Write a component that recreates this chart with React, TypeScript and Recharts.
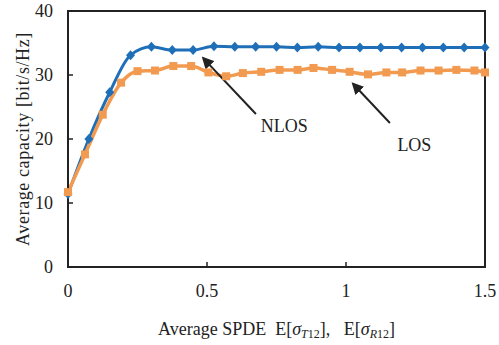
import { LineChart, Line, XAxis, YAxis, ReferenceArea, ReferenceLine, ReferenceDot } from "recharts";

const nlosX = [0, 0.075, 0.15, 0.225, 0.3, 0.375, 0.45, 0.525, 0.6, 0.675, 0.75, 0.825, 0.9, 0.975, 1.05, 1.125, 1.2, 1.275, 1.35, 1.425, 1.5];
const nlosY = [11.4, 20.0, 27.3, 33.1, 34.4, 33.9, 33.9, 34.5, 34.4, 34.4, 34.4, 34.3, 34.4, 34.3, 34.3, 34.3, 34.3, 34.3, 34.3, 34.3, 34.3];

const losX = [0, 0.061, 0.125, 0.191, 0.25, 0.313, 0.379, 0.443, 0.505, 0.569, 0.629, 0.695, 0.761, 0.826, 0.883, 0.95, 1.013, 1.079, 1.145, 1.202, 1.268, 1.333, 1.397, 1.462, 1.5];
const losY = [11.7, 17.6, 23.8, 28.8, 30.6, 30.7, 31.4, 31.4, 30.4, 29.8, 30.3, 30.5, 30.8, 30.8, 31.1, 30.8, 30.5, 30.1, 30.4, 30.4, 30.7, 30.7, 30.8, 30.7, 30.4];

const xTicks = [0, 0.5, 1, 1.5];
const yTicks = [0, 10, 20, 30, 40];

const nlosData = nlosX.map((x, i) => ({ x, v: nlosY[i] }));
const losData = losX.map((x, i) => ({ x, v: losY[i] }));

const FONT = "'Liberation Serif', 'Times New Roman', serif";
const BLUE = "#1f6fb8";
const ORANGE = "#f29a50";
const INK = "#222";

function DiamondDot(p: any) {
  if (p.cx == null || p.cy == null) return <g key={`d-${p.index}`} />;
  const { cx, cy } = p;
  return (
    <polygon
      key={`d-${p.index}`}
      points={`${cx},${cy - 5} ${cx + 4.5},${cy} ${cx},${cy + 5} ${cx - 4.5},${cy}`}
      fill={BLUE}
    />
  );
}

function SquareDot(p: any) {
  if (p.cx == null || p.cy == null) return <g key={`s-${p.index}`} />;
  return <rect key={`s-${p.index}`} x={p.cx - 4} y={p.cy - 4} width={8} height={8} fill={ORANGE} />;
}

function Arrow(p: any) {
  return <line x1={p.x1} y1={p.y1} x2={p.x2} y2={p.y2} stroke={INK} strokeWidth={2} markerEnd="url(#arrowHead)" />;
}

function XTitle(p: any) {
  const vb = p.viewBox;
  const cx = vb.x + vb.width / 2;
  return (
    <text x={cx} y={335} textAnchor="middle" fontFamily={FONT} fontSize={18} fill={INK} style={{ whiteSpace: "pre" }}>
      {"Average SPDE  E["}
      <tspan fontStyle="italic">σ</tspan>
      <tspan fontSize={12} dy={3}>
        <tspan fontStyle="italic">T</tspan>12
      </tspan>
      <tspan dy={-3}>{"],   E["}</tspan>
      <tspan fontStyle="italic">σ</tspan>
      <tspan fontSize={12} dy={3}>
        <tspan fontStyle="italic">R</tspan>12
      </tspan>
      <tspan dy={-3}>]</tspan>
    </text>
  );
}

function YTitle(p: any) {
  const vb = p.viewBox;
  const cy = vb.y + vb.height / 2;
  return (
    <text
      x={23}
      y={cy}
      transform={`rotate(-90 23 ${cy})`}
      textAnchor="middle"
      dominantBaseline="central"
      fontFamily={FONT}
      fontSize={18}
      letterSpacing={0.6}
      fill={INK}
    >
      Average capacity [bit/s/Hz]
    </text>
  );
}

export default function App() {
  const tick = { fill: INK, fontSize: 18, fontFamily: FONT };
  return (
    <div style={{ position: "absolute", left: 0, top: 0, background: "#fff" }}>
      <LineChart width={499} height={345} margin={{ top: 11, right: 14, left: 0, bottom: 0 }}>
        <defs>
          <marker id="arrowHead" viewBox="0 0 10 10" refX="8" refY="5" markerWidth="6" markerHeight="6" orient="auto">
            <path d="M0,0 L10,5 L0,10 z" fill={INK} />
          </marker>
        </defs>
        <XAxis
          type="number"
          dataKey="x"
          domain={[0, 1.5]}
          ticks={xTicks}
          tickFormatter={(v) => String(v)}
          height={78}
          tick={tick}
          tickSize={-5}
          tickMargin={22}
          axisLine={{ stroke: INK, strokeWidth: 2 }}
          tickLine={{ stroke: INK, strokeWidth: 1.5 }}
          label={{ content: XTitle }}
        />
        <YAxis
          type="number"
          domain={[0, 40]}
          ticks={yTicks}
          width={68}
          tick={tick}
          tickSize={-5}
          tickMargin={20}
          axisLine={{ stroke: INK, strokeWidth: 2 }}
          tickLine={{ stroke: INK, strokeWidth: 1.5 }}
          label={{ content: YTitle }}
        />
        <ReferenceArea x1={0} x2={1.5} y1={0} y2={40} fill="none" stroke={INK} strokeWidth={2} fillOpacity={0} />
        <Line
          data={nlosData}
          dataKey="v"
          type="monotone"
          stroke={BLUE}
          strokeWidth={3}
          dot={DiamondDot}
          activeDot={false}
          isAnimationActive={false}
        />
        <Line
          data={losData}
          dataKey="v"
          type="monotone"
          stroke={ORANGE}
          strokeWidth={3.5}
          dot={SquareDot}
          activeDot={false}
          isAnimationActive={false}
        />
        <ReferenceLine segment={[{ x: 0.676, y: 23.9 }, { x: 0.487, y: 32.6 }]} shape={Arrow} />
        <ReferenceLine segment={[{ x: 1.158, y: 22.5 }, { x: 1.026, y: 28.6 }]} shape={Arrow} />
        <ReferenceDot
          x={0.778}
          y={22.1}
          r={0}
          label={{ value: "NLOS", position: "center", fill: INK, fontSize: 18, fontFamily: FONT }}
        />
        <ReferenceDot
          x={1.246}
          y={19.2}
          r={0}
          label={{ value: "LOS", position: "center", fill: INK, fontSize: 18, fontFamily: FONT }}
        />
      </LineChart>
    </div>
  );
}
